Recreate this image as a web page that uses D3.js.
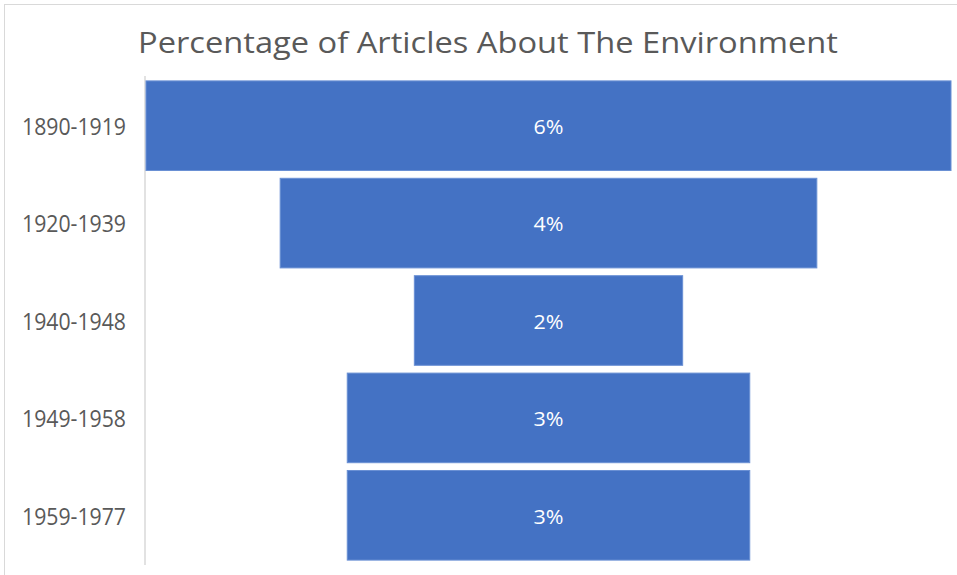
<!DOCTYPE html>
<html><head><meta charset="utf-8">
<script src="https://cdn.jsdelivr.net/npm/d3@7"></script>
<style>body{margin:0;background:#fff}svg{display:block}</style>
</head><body>
<svg id="c" width="957" height="575"></svg>
<script>
const categories = ["1890-1919","1920-1939","1940-1948","1949-1958","1959-1977"];
const values = [6,4,2,3,3];
const labels = ["6%","4%","2%","3%","3%"];
const title = "Percentage of Articles About The Environment";

const svg = d3.select("#c");
const font = "'Open Sans','Noto Sans',sans-serif";
// outer border
svg.append("rect").attr("x",4.5).attr("y",4.5).attr("width",960).attr("height",580)
  .attr("fill","none").attr("stroke","#d9d9d9");

svg.append("text").attr("x",138).attr("y",53).attr("text-anchor","start")
  .attr("font-family",font).attr("font-size",29).attr("fill","#595959")
  .attr("textLength",700).attr("lengthAdjust","spacingAndGlyphs").text(title);

const y = d3.scaleBand().domain(categories).range([77,564]).paddingInner(0.08).paddingOuter(0.04);
const w = d3.scaleLinear().domain([0,6]).range([0,805]);
const cx = 548.5;

svg.append("line").attr("x1",145).attr("x2",145).attr("y1",76).attr("y2",565)
  .attr("stroke","#d9d9d9").attr("stroke-width",1.5);

svg.selectAll("rect.bar").data(values).join("rect").attr("class","bar")
  .attr("x",d=>cx-w(d)/2).attr("width",d=>w(d))
  .attr("y",(d,i)=>y(categories[i])).attr("height",y.bandwidth())
  .attr("fill","#4472c4").attr("stroke","#6a90d4").attr("stroke-width",1);

svg.selectAll("text.lab").data(labels).join("text").attr("class","lab")
  .attr("x",cx).attr("y",(d,i)=>y(categories[i])+y.bandwidth()/2+1).attr("dy","0.36em")
  .attr("text-anchor","middle").attr("font-family",font).attr("font-size",20).attr("fill","#fff")
  .attr("textLength",30).attr("lengthAdjust","spacingAndGlyphs").text(d=>d);

svg.selectAll("text.cat").data(categories).join("text").attr("class","cat")
  .attr("x",22).attr("y",d=>y(d)+y.bandwidth()/2+1).attr("dy","0.36em")
  .attr("text-anchor","start").attr("font-family",font).attr("font-size",23).attr("fill","#595959")
  .attr("textLength",104).attr("lengthAdjust","spacingAndGlyphs").text(d=>d);
</script>
</body></html>
